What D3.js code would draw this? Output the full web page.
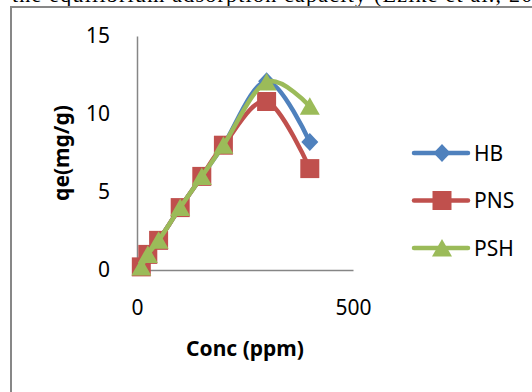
<!DOCTYPE html>
<html>
<head>
<meta charset="utf-8">
<script src="https://cdn.jsdelivr.net/npm/d3@7"></script>
<style>
  body { margin: 0; background: #fff; }
  svg { display: block; }
</style>
</head>
<body>
<div id="chart"></div>
<script>
// Concentración (ppm) en el eje x
var conc = [10, 25, 50, 100, 150, 200, 300, 400];

// qe (mg/g) de cada serie
var hbValues = [0.2, 1.0, 1.9, 4.0, 6.0, 8.0, 12.1, 8.2];
var pnsValues = [0.2, 1.0, 1.9, 4.0, 6.0, 8.0, 10.8, 6.5];
var pshValues = [0.2, 1.0, 1.9, 4.0, 6.0, 8.0, 12.05, 10.5];

var seriesNames = ['HB', 'PNS', 'PSH'];
var xTicks = [0, 500];
var yTicks = [0, 5, 10, 15];

var width = 532;
var height = 392;
var plot = { left: 137, right: 353, top: 36, bottom: 270 };

var colors = { HB: '#4F81BD', PNS: '#C0504D', PSH: '#9BBB59' };
var font = '"Noto Sans", "Open Sans", sans-serif';

var svg = d3.select('#chart').append('svg')
    .attr('width', width)
    .attr('height', height);

// Línea de texto del documento, cortada por arriba como en la captura
svg.append('text')
    .attr('x', 12)
    .attr('y', 2)
    .attr('textLength', 560)
    .attr('lengthAdjust', 'spacing')
    .style('font-family', '"Liberation Serif", serif')
    .style('font-size', '22px')
    .text('the equilibrium adsorption capacity (Ezike et al., 2018).');

// Marco del gráfico
svg.append('rect')
    .attr('x', 11)
    .attr('y', 7)
    .attr('width', 600)
    .attr('height', 500)
    .attr('fill', 'none')
    .attr('stroke', '#878787')
    .attr('stroke-width', 2);

var xScale = d3.scaleLinear().domain([0, 500]).range([plot.left, plot.right]);
var yScale = d3.scaleLinear().domain([0, 15]).range([plot.bottom, plot.top]);

// Ejes sin marcas
var xAxis = svg.append('g')
    .attr('transform', 'translate(0,' + plot.bottom + ')')
    .call(d3.axisBottom(xScale).tickValues(xTicks).tickSize(0).tickPadding(30));
var yAxis = svg.append('g')
    .attr('transform', 'translate(' + plot.left + ',0)')
    .call(d3.axisLeft(yScale).tickValues(yTicks).tickSize(0).tickPadding(27));

[xAxis, yAxis].forEach(function(ax) {
    ax.select('.domain').attr('stroke', '#868686').attr('stroke-width', 1.5);
    ax.selectAll('text')
        .style('font-family', font)
        .style('font-size', '21px')
        .attr('fill', '#000');
});

// Títulos de los ejes
svg.append('text')
    .attr('x', (plot.left + plot.right) / 2)
    .attr('y', 356)
    .style('text-anchor', 'middle')
    .style('font-family', font)
    .style('font-size', '21px')
    .style('font-weight', 'bold')
    .text('Conc (ppm)');

svg.append('text')
    .attr('transform', 'translate(69,153) rotate(-90)')
    .style('text-anchor', 'middle')
    .style('font-family', font)
    .style('font-size', '21px')
    .style('font-weight', 'bold')
    .text('qe(mg/g)');

// Formas de marcador
function markerPath(name) {
    if (name === 'HB') return 'M0,-9L8.5,0L0,9L-8.5,0Z';
    if (name === 'PNS') return 'M-9.5,-9.5H9.5V9.5H-9.5Z';
    return 'M0,-9L10,8.5H-10Z';
}

var line = d3.line()
    .x(function(d) { return xScale(d.x); })
    .y(function(d) { return yScale(d.y); })
    .curve(d3.curveCardinal.tension(0));

var allValues = { HB: hbValues, PNS: pnsValues, PSH: pshValues };

seriesNames.forEach(function(name) {
    var data = conc.map(function(c, i) { return { x: c, y: allValues[name][i] }; });

    svg.append('path')
        .datum(data)
        .attr('d', line)
        .attr('fill', 'none')
        .attr('stroke', colors[name])
        .attr('stroke-width', 4.5)
        .attr('stroke-linejoin', 'round')
        .attr('stroke-linecap', 'round');

    svg.selectAll('.m-' + name)
        .data(data)
        .enter().append('path')
        .attr('class', 'm-' + name)
        .attr('transform', function(d) { return 'translate(' + xScale(d.x) + ',' + yScale(d.y) + ')'; })
        .attr('d', markerPath(name))
        .attr('fill', colors[name]);
});

// Leyenda
var legend = svg.append('g');
seriesNames.forEach(function(name, i) {
    var y = 153 + i * 47.5;
    legend.append('line')
        .attr('x1', 414).attr('x2', 468)
        .attr('y1', y).attr('y2', y)
        .attr('stroke', colors[name])
        .attr('stroke-width', 4.5)
        .attr('stroke-linecap', 'round');
    legend.append('path')
        .attr('transform', 'translate(442,' + y + ')')
        .attr('d', markerPath(name))
        .attr('fill', colors[name]);
    legend.append('text')
        .attr('x', 474)
        .attr('y', y)
        .attr('dy', '0.36em')
        .style('font-family', font)
        .style('font-size', '21px')
        .text(name);
});
</script>
</body>
</html>
